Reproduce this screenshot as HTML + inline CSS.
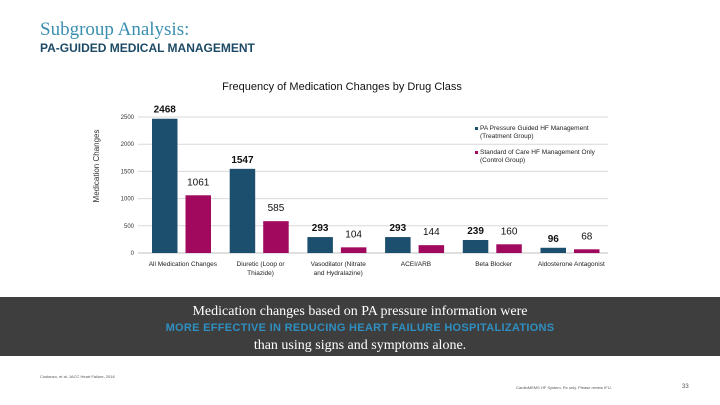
<!DOCTYPE html>
<html><head><meta charset="utf-8"><style>
body{margin:0;width:720px;height:405px;background:#fff;overflow:hidden;font-family:"Liberation Sans",sans-serif;position:relative}
.a{position:absolute;white-space:nowrap;line-height:1}
</style></head><body>
<div class="a" style="left:40px;top:20px;font-family:'Liberation Serif',serif;font-size:19px;color:#3a8fb0">Subgroup Analysis:</div>
<div class="a" style="left:40px;top:42px;font-size:12px;font-weight:bold;color:#1d4a66">PA-GUIDED MEDICAL MANAGEMENT</div>
<svg id="c" width="720" height="405" style="position:absolute;left:0;top:0"></svg>
<div class="a" style="left:0;top:297px;width:720px;height:59px;background:#3e3e3e;text-align:center;line-height:17px;padding-top:6px;box-sizing:border-box">
<div style="font-family:'Liberation Serif',serif;font-size:14px;color:#fff">Medication changes based on PA pressure information were</div>
<div style="font-size:11px;font-weight:bold;color:#2f8fc0;letter-spacing:0.3px">MORE EFFECTIVE IN REDUCING HEART FAILURE HOSPITALIZATIONS</div>
<div style="font-family:'Liberation Serif',serif;font-size:14px;color:#fff">than using signs and symptoms alone.</div>
</div>
<div class="a" style="left:40px;top:375px;font-size:4px;color:#555">Costanzo, et al. JACC Heart Failure, 2016</div>
<div class="a" style="left:516px;top:386px;font-size:4px;color:#555">CardioMEMS HF System. Rx only. Please review IFU.</div>
<div class="a" style="left:682px;top:384px;font-size:6px;color:#555">33</div>
<script>
const categories=[["All Medication Changes"],["Diuretic (Loop or","Thiazide)"],["Vasodilator (Nitrate","and Hydralazine)"],["ACEI/ARB"],["Beta Blocker"],["Aldosterone Antagonist"]];
const treatment=[2468,1547,293,293,239,96];
const control=[1061,585,104,144,160,68];
const ticks=[0,500,1000,1500,2000,2500];
const svg=document.getElementById('c');const NS='http://www.w3.org/2000/svg';
function mk(t,a,txt){const e=document.createElementNS(NS,t);for(const k in a)e.setAttribute(k,a[k]);if(txt!=null)e.textContent=txt;svg.appendChild(e);return e;}
const x0=138,cw=77.7,y0=253,yMax=2500,ph=136;
const y=v=>y0-v/yMax*ph;
ticks.forEach(t=>{const g=mk('line',{x1:x0,x2:608,y1:y(t),y2:y(t),stroke:t?'#d9d9d9':'#bfbfbf','stroke-width':1});

const l=mk('text',{x:x0-4,y:y(t)+2,'text-anchor':'end','font-size':6,fill:'#333'},t);
});
const yt=mk('text',{x:0,y:0,transform:'translate(99,166) rotate(-90)','text-anchor':'middle','font-size':8,fill:'#333'},'Medication Changes');

const ct=mk('text',{x:342,y:90,'text-anchor':'middle','font-size':11,fill:'#111'},'Frequency of Medication Changes by Drug Class');

categories.forEach((c,i)=>{const cx=x0+cw*i;
[[treatment[i],'#1c4f6d',14,true],[control[i],'#a0095d',47.5,false]].forEach(([v,col,off,b])=>{
const r=mk('rect',{x:cx+off,y:y(v),width:25.5,height:y0-y(v),fill:col});

const t=mk('text',{x:cx+off+12.75,y:y(v)-(b?6:10),'text-anchor':'middle','font-size':10,'font-weight':b?'bold':'normal',fill:'#111'},v);
});
c.forEach((ln,j)=>{const t=mk('text',{x:cx+cw/2+6,y:266+j*9,'text-anchor':'middle','font-size':6.5,fill:'#222'},ln);
});});
[['#1c4f6d',['PA Pressure Guided HF Management','(Treatment Group)'],130],['#a0095d',['Standard of Care HF Management Only','(Control Group)'],154]].forEach(([col,ls,yy])=>{
const s=mk('rect',{x:475,y:yy-3,width:3,height:3,fill:col});
ls.forEach((l,j)=>{const t=mk('text',{x:480,y:yy+j*8,'font-size':6.5,fill:'#222'},l);});});
</script>
</body></html>
